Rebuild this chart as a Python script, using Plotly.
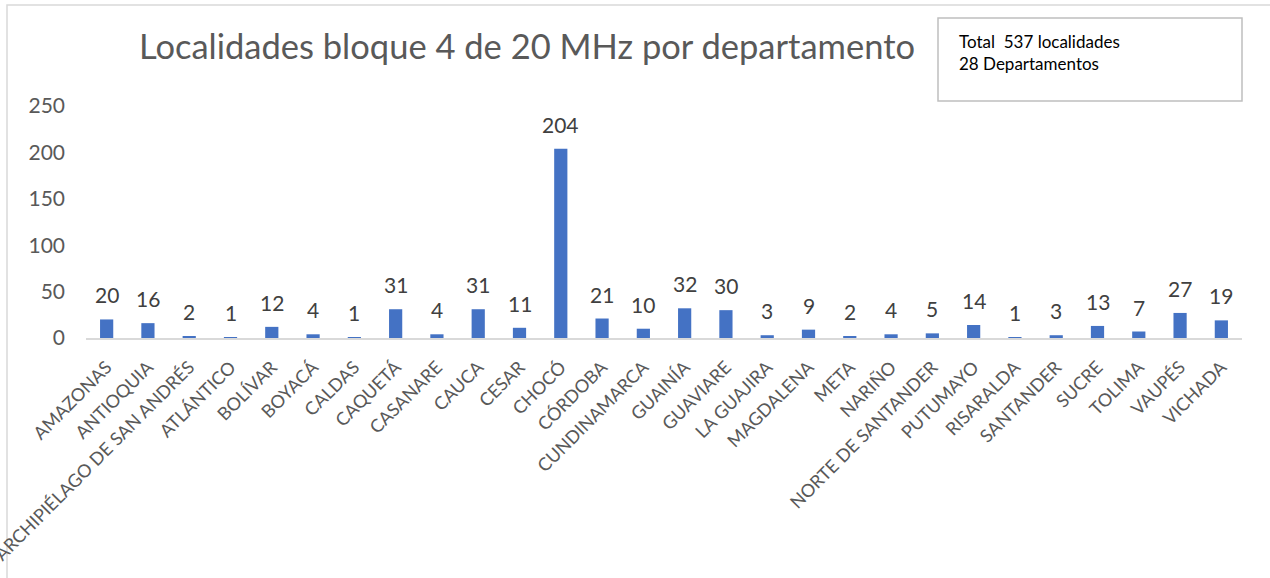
import plotly.graph_objects as go

departamentos = ["AMAZONAS", "ANTIOQUIA", "ARCHIPIÉLAGO DE SAN ANDRÉS", "ATLÁNTICO", "BOLÍVAR",
                 "BOYACÁ", "CALDAS", "CAQUETÁ", "CASANARE", "CAUCA", "CESAR", "CHOCÓ",
                 "CÓRDOBA", "CUNDINAMARCA", "GUAINÍA", "GUAVIARE", "LA GUAJIRA", "MAGDALENA",
                 "META", "NARIÑO", "NORTE DE SANTANDER", "PUTUMAYO", "RISARALDA", "SANTANDER",
                 "SUCRE", "TOLIMA", "VAUPÉS", "VICHADA"]
localidades = [20, 16, 2, 1, 12, 4, 1, 31, 4, 31, 11, 204, 21, 10, 32, 30, 3, 9, 2, 4, 5, 14,
               1, 3, 13, 7, 27, 19]
y_ticks = [0, 50, 100, 150, 200, 250]

FONT = "Lato, 'Open Sans', sans-serif"

fig = go.Figure(go.Bar(
    x=departamentos, y=localidades,
    marker=dict(color="#4472C4", line=dict(width=0)),
    cliponaxis=False, hoverinfo="x+y",
))

value_labels = [
    dict(x=d, y=v, xref="x", yref="y", text=str(v), showarrow=False,
         xanchor="center", yanchor="bottom", yshift=10,
         font=dict(size=21, color="#404040", family=FONT))
    for d, v in zip(departamentos, localidades)
]

fig.update_layout(
    width=1270, height=578,
    margin=dict(l=86, r=28, t=106, b=240),
    paper_bgcolor="white", plot_bgcolor="white",
    bargap=0.68,
    showlegend=False,
    title=dict(text="Localidades bloque 4 de 20 MHz por departamento",
               x=527 / 1270, xanchor="center", y=1 - 47 / 578, yanchor="middle",
               font=dict(size=34.5, color="#595959", family=FONT)),
    font=dict(family=FONT, color="#595959"),
    xaxis=dict(tickangle=-45, tickfont=dict(size=18, color="#595959"),
               showline=True, linecolor="#d9d9d9", linewidth=1.5,
               ticks="", automargin=False, showgrid=False, ticklabelstandoff=10),
    yaxis=dict(range=[0, 250], tickvals=y_ticks, tickfont=dict(size=21, color="#595959"),
               showgrid=False, zeroline=False, showline=False, ticks="",
               automargin=False, ticklabelstandoff=20),
    shapes=[
        dict(type="rect", xref="paper", yref="paper",
             x0=(7 - 86) / (1270 - 86 - 28), x1=(1290 - 86) / (1270 - 86 - 28),
             y0=(338 - 600) / 232, y1=(338 - 5) / 232,
             line=dict(color="#d9d9d9", width=1.5), layer="below"),
        dict(type="rect", xref="paper", yref="paper",
             x0=(938 - 86) / 1156, x1=(1242 - 86) / 1156,
             y0=(338 - 101) / 232, y1=(338 - 18) / 232,
             line=dict(color="#bfbfbf", width=1.5), fillcolor="white"),
    ],
    annotations=value_labels + [
        dict(xref="paper", yref="paper", x=(957 - 86) / 1156, y=(338 - 41) / 232,
             xanchor="left", yanchor="middle", showarrow=False,
             text="Total  537 localidades", font=dict(size=17, color="#000000", family=FONT)),
        dict(xref="paper", yref="paper", x=(957 - 86) / 1156, y=(338 - 63) / 232,
             xanchor="left", yanchor="middle", showarrow=False,
             text="28 Departamentos", font=dict(size=17, color="#000000", family=FONT)),
    ],
)

fig.write_html("out.html", config={"displayModeBar": False},
               post_script="document.body.style.margin='0';")
